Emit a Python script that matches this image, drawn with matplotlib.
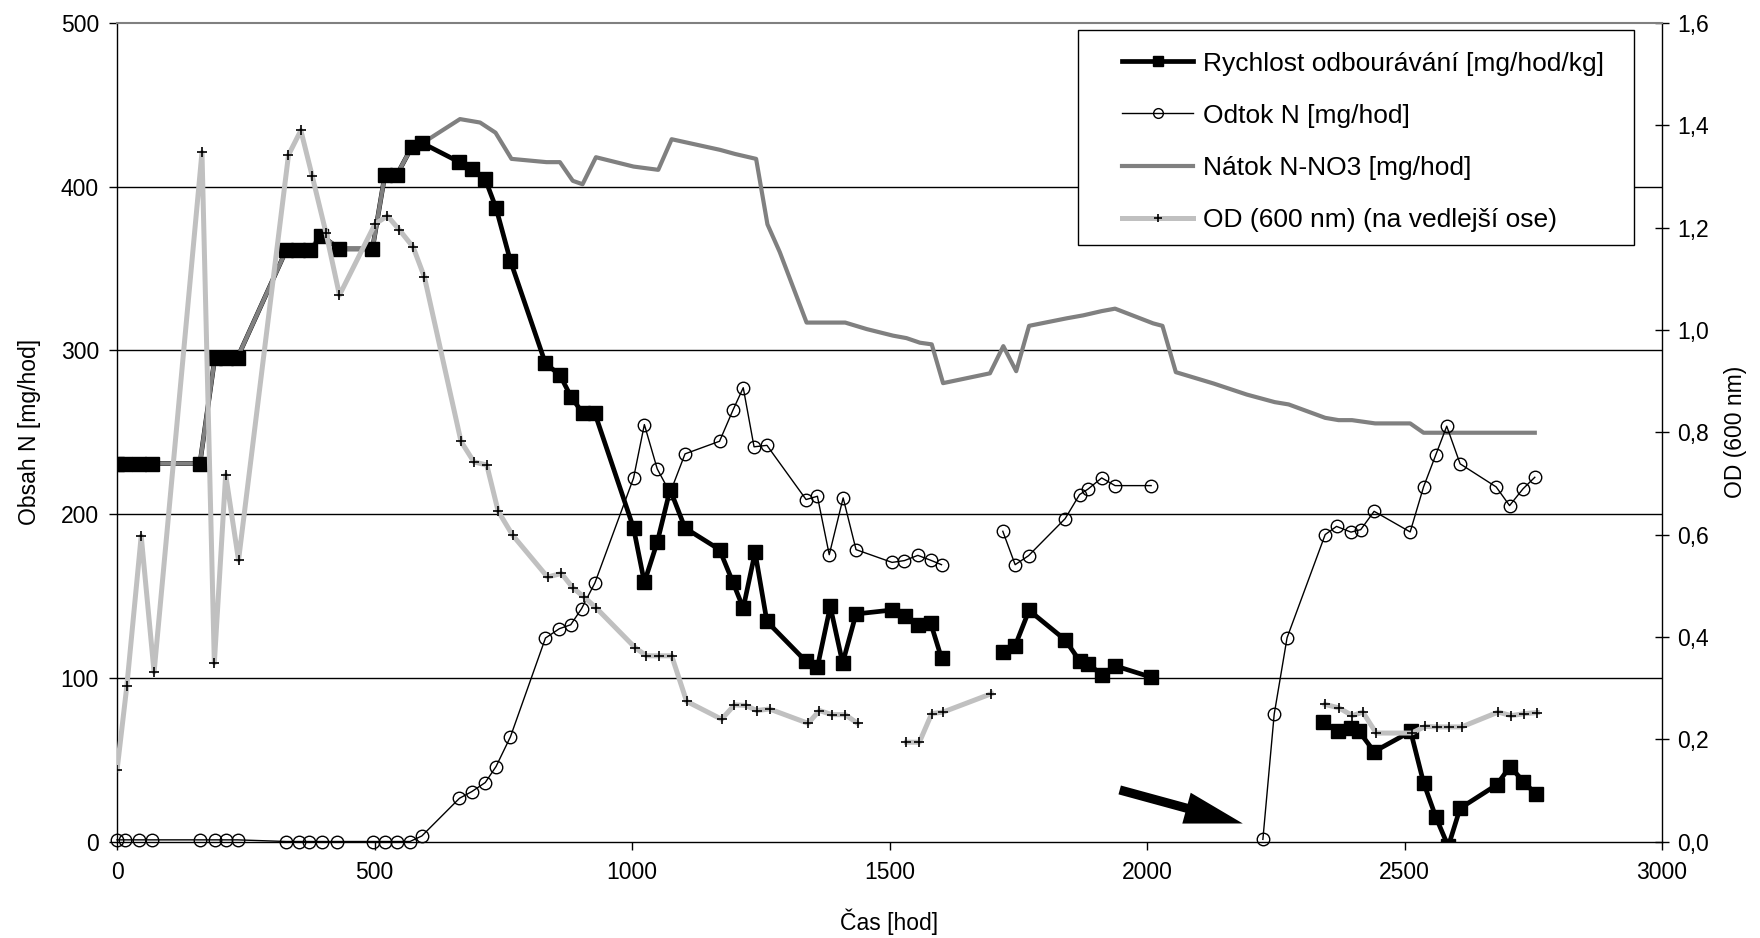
import numpy as np
import matplotlib
matplotlib.use("Agg")
import matplotlib.pyplot as plt
from matplotlib.lines import Line2D
from matplotlib.patches import Rectangle
from matplotlib.ticker import FuncFormatter

nan = np.nan

# Rychlost odbourávání [mg/hod/kg]
rych_t = [0, 16, 43, 67, 161, 190, 212, 234, 329, 352, 375, 397, 432, 496, 520, 543, 572, 593,
          665, 689, 715, 736, 764, 832, 860, 882, 905, 928, 1003, 1024, 1049, 1074, 1103, 1170,
          1196, 1216, 1239, 1262, 1338, 1360, 1385, 1409, 1435, 1505, 1530, 1556, 1580, 1601, nan,
          1720, 1744, 1771, 1841, 1870, 1886, 1912, 1938, 2008, nan,
          2342, 2370, 2396, 2412, 2441, 2512, 2537, 2561, 2585, 2608, 2679, 2705, 2731, 2755]
rych_v = [230.9, 230.9, 230.9, 230.9, 230.9, 295.6, 295.6, 295.6, 361.5, 361.5, 361.5, 370, 362, 362,
          407, 407, 424, 426.6, 415, 410.7, 404.6, 387, 354.6, 292, 285, 271.4, 261.5, 261.5,
          191.5, 158.3, 182.8, 215, 191.5, 178.3, 158.3, 142.6, 176.7, 134.4, 110, 106.5, 143.6,
          109, 139, 141.4, 138, 132.4, 133.4, 112, nan,
          115.5, 119.6, 141.2, 123.2, 110, 108.6, 101.8, 107.3, 100.4, nan,
          72.7, 67.2, 69.2, 67.2, 54.9, 67.2, 36, 14.8, -3, 20.3, 34.6, 45.8, 36.6, 28.9]

# Odtok N [mg/hod]
odt_t = [0, 16, 43, 67, 161, 190, 212, 234, 329, 353, 373, 399, 428, 498, 520, 543, 569, 592,
         665, 689, 715, 736, 764, 832, 859, 881, 902, 928, 1003, 1024, 1049, 1074, 1103, 1170,
         1196, 1216, 1237, 1262, 1338, 1360, 1383, 1410, 1435, 1505, 1529, 1555, 1580, 1601, nan,
         1720, 1744, 1770, 1841, 1869, 1886, 1912, 1938, 2008, nan,
         2225, 2247, 2272, 2346, 2368, 2396, 2415, 2441, 2511, 2537, 2561, 2582, 2608, 2678,
         2704, 2730, 2753]
odt_v = [1, 1, 1, 1, 1, 1, 1, 1, 0, 0, 0, 0, 0, 0, 0, 0, 0, 3.4,
         26.4, 30.5, 36, 45.8, 64, 124.3, 130, 132.4, 142.2, 158, 222, 254.7, 227.6, 213, 236.8,
         244.5, 263.5, 277.2, 241.1, 242, 208.9, 210.9, 175.2, 209.9, 178.3, 170.5, 171.6, 174.8,
         171.8, 169.1, nan,
         189.5, 169.1, 174.6, 197.2, 211.9, 215.4, 222.1, 217.4, 217.4, nan,
         1.3, 77.8, 124.5, 187.5, 192.5, 189, 190.5, 201.7, 189.1, 216.6, 236.4, 253.7, 230.7,
         216.6, 205.2, 215.4, 222.5]

# Nátok N-NO3 [mg/hod]
nat_t = [0, 16, 43, 67, 161, 190, 212, 234, 329, 352, 375, 397, 432, 496, 520, 543, 572, 593,
         666, 705, 735, 766, 834, 860, 885, 904, 930, 1003, 1051, 1077, 1171, 1200, 1241, 1263,
         1287, 1339, 1414, 1456, 1507, 1533, 1559, 1582, 1604, 1695, 1721, 1746, 1771, 1844,
         1876, 1912, 1938, 2012, 2030, 2056, 2129, 2194, 2248, 2275, 2346, 2372, 2398, 2443,
         2511, 2537, 2753]
nat_v = [230.9, 230.9, 230.9, 230.9, 230.9, 295.6, 295.6, 295.6, 361.5, 361.5, 361.5, 370, 362, 362,
         407, 407, 424, 426.6, 441.3, 439.2, 433, 417, 415, 415, 403.6, 401.5, 418, 412.3, 410.3,
         429, 422.5, 420, 417, 377, 360, 317, 317, 313, 309, 307.5, 304.7, 303.7, 280, 286,
         302.6, 287.3, 315, 319.6, 321.4, 324, 325.5, 316.5, 315, 286.7, 279.8, 273, 268.4, 267,
         258.8, 257.4, 257.4, 255.4, 255.4, 249.7, 249.7]

# OD (600 nm) - secondary axis
od_t = [0, 19, 47, 72, 165, 189, 211, 236, 333, 357, 379, 406, 432, 501, 525, 548, 575, 597,
        668, 693, 718, 740, 768, 836, 863, 885, 907, 931, 1006, 1028, 1053, 1077, 1106, 1174,
        1199, 1221, 1242, 1267, 1342, 1364, 1388, 1414, 1438, nan,
        1533, 1558, 1582, 1604, 1698, nan,
        2346, 2373, 2399, 2419, 2445, 2514, 2540, 2564, 2587, 2611, 2682, 2707, 2733, 2758]
od_v = [0.139, 0.303, 0.597, 0.331, 1.347, 0.349, 0.717, 0.55, 1.342, 1.39, 1.301, 1.189, 1.068,
        1.207, 1.223, 1.196, 1.162, 1.103, 0.782, 0.742, 0.736, 0.646, 0.599, 0.517, 0.524,
        0.496, 0.478, 0.456, 0.379, 0.363, 0.363, 0.363, 0.274, 0.239, 0.267, 0.266, 0.256,
        0.259, 0.231, 0.256, 0.248, 0.248, 0.231, nan,
        0.194, 0.194, 0.25, 0.253, 0.289, nan,
        0.268, 0.261, 0.246, 0.253, 0.212, 0.212, 0.225, 0.224, 0.224, 0.224, 0.253, 0.246,
        0.25, 0.252]

labels = ["Rychlost odbourávání [mg/hod/kg]", "Odtok N [mg/hod]",
          "Nátok N-NO3 [mg/hod]", "OD (600 nm) (na vedlejší ose)"]

plt.rcParams['font.family'] = ['Liberation Sans', 'DejaVu Sans']
FS = 16.5
LFS = 19
W, H = 1760, 938
fig = plt.figure(figsize=(W / 100, H / 100), dpi=100)
ax = fig.add_axes([117 / W, 1 - 841.5 / H, (1662 - 117) / W, (841.5 - 23) / H])
ax2 = ax.twinx()

ax.set_xlim(0, 3000)
ax.set_ylim(0, 500)
ax2.set_ylim(0, 1.6)

for y in [100, 200, 300, 400]:
    ax.axhline(y, color='black', lw=1.0, zorder=1)

# Rychlost line (beneath Nátok), Nátok, Odtok, markers on top
ax.plot(rych_t, rych_v, color='black', lw=3.4, zorder=2)
ax.plot(nat_t, nat_v, color='#808080', lw=3.0, zorder=3)
ax.plot(odt_t, odt_v, color='black', lw=1.0, marker='o', ms=9, mfc='none', mec='black',
        mew=1.0, zorder=4, clip_on=False)
ax.plot(rych_t, rych_v, ls='none', marker='s', ms=9.5, color='black', zorder=5)

ax2.plot(od_t, od_v, color='#C0C0C0', lw=3.6, marker='+', ms=7, mec='black', mew=1.2, zorder=3)

ax.annotate('', xy=(2186, 11.0), xytext=(1947, 31.5),
            arrowprops=dict(arrowstyle='simple,head_length=2.1,head_width=1.15,tail_width=0.33',
                            color='black', lw=0, mutation_scale=20, shrinkA=0, shrinkB=0))

ax.set_xticks(range(0, 3001, 500))
ax.set_yticks(range(0, 501, 100))
ax2.set_yticks(np.arange(0, 1.61, 0.2))
ax2.yaxis.set_major_formatter(FuncFormatter(lambda v, p: f"{v:.1f}".replace('.', ',')))

ax.tick_params(axis='both', labelsize=FS, length=6, width=1.0, direction='out', color='black')
ax.tick_params(axis='y', pad=7)
ax.tick_params(axis='x', pad=8)
ax2.tick_params(axis='y', labelsize=FS, length=9.5, width=1.0, direction='inout', pad=6)

for s in ['left', 'bottom']:
    ax.spines[s].set_color('black')
    ax.spines[s].set_linewidth(1.0)
ax.spines['right'].set_visible(False)
ax.spines['top'].set_visible(False)
for s in ['left', 'bottom']:
    ax2.spines[s].set_visible(False)
ax2.spines['top'].set_color('#808080')
ax2.spines['top'].set_linewidth(1.5)
ax2.spines['right'].set_color('black')
ax2.spines['right'].set_linewidth(1.0)

ax.set_xlabel('Čas [hod]', fontsize=FS, labelpad=18)
ax.set_ylabel('Obsah N [mg/hod]', fontsize=FS, labelpad=14)
ax2.set_ylabel('OD (600 nm)', fontsize=FS, labelpad=11)

# Legend box
fig.patches.append(Rectangle((1077.5 / W, 1 - 245 / H), (1634 - 1077.5) / W, (245 - 30) / H,
                             transform=fig.transFigure, facecolor='white', edgecolor='black',
                             lw=1.0, zorder=10))
handles = [
    Line2D([], [], color='black', lw=3.4, marker='s', ms=7),
    Line2D([], [], color='black', lw=1.0, marker='o', ms=7, mfc='none'),
    Line2D([], [], color='#808080', lw=3.0),
    Line2D([], [], color='#C0C0C0', lw=3.6, marker='+', ms=6, mec='black', mew=1.2),
]
leg = fig.legend(handles, labels, loc='upper left', bbox_to_anchor=(1122 / W, 1 - 51.5 / H),
                 frameon=False, fontsize=LFS, handlelength=2.7, handletextpad=0.38,
                 labelspacing=1.07, borderpad=0, borderaxespad=0)
leg.set_zorder(11)

fig.savefig('out.png', dpi=100, facecolor='white')
